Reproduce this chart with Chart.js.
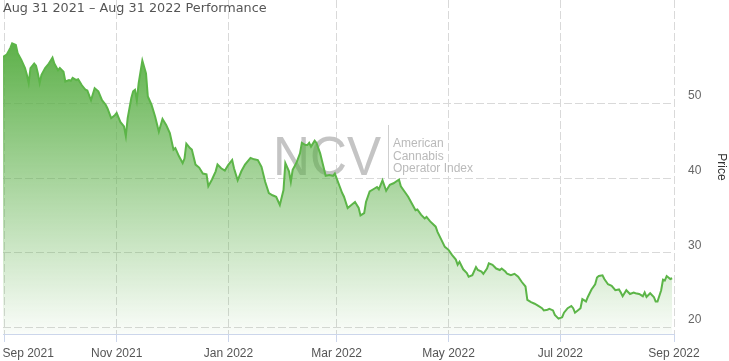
<!DOCTYPE html>
<html><head><meta charset="utf-8">
<script src="https://cdn.jsdelivr.net/npm/chart.js@4.4.0/dist/chart.umd.min.js"></script>
<style>html,body{margin:0;padding:0;background:#fff}#wrap{width:729px;height:361px;position:relative}</style>
</head><body><div id="wrap"><canvas id="c" width="729" height="361"></canvas></div>
<script>
// Days since Aug 31 2021
const days = [0,2,4,5,7,8,10,12,13,14,15,17,18,19,20,21,23,25,27,28,30,31,33,34,36,37,38,40,41,43,45,46,48,50,52,54,56,57,59,61,62,64,66,67,68,70,71,72,73,74,76,78,79,81,83,85,87,89,91,93,94,96,
98,99,100,102,103,105,107,109,111,112,114,116,117,119,121,123,125,126,128,130,132,135,137,139,141,143,145,147,149,151,153,154,156,157,158,160,162,163,165,166,167,168,170,171,173,175,176,178,180,181,183,185,186,188,190,192,194,195,197,198,200,202,204,205,207,209,211,213,216,217,219,221,223,225,226,228,230,231,233,236,237,239,241,243,245,247,248,249,251,253,254,256,258,259,261,262,264,265,267,269,271,272,274,275,277,279,281,283,285,286,288,290,292,294,295,297,298,300,301,303,305,306,308,310,311,312,314,315,316,318,319,321,323,324,325,327,328,330,332,334,336,337,338,340,342,344,345,347,349,350,351,353,355,356,357,359,360,361,362,364,365];
const prices = [56.2,56.5,57.4,58.0,57.8,56.7,55.8,54.7,53.8,52.7,54.7,55.3,55.0,54.0,52.7,53.8,54.7,55.3,56.1,55.3,54.4,54.7,54.2,52.9,53.1,53.0,53.4,53.1,53.2,52.4,51.8,51.7,50.4,52.0,51.6,50.4,49.8,49.3,48.0,48.4,48.7,47.5,46.9,45.6,48.0,50.7,51.6,51.8,50.4,52.7,55.7,54.0,50.9,49.8,48.2,46.2,47.9,47.1,46.0,43.8,44.0,42.9,
42.0,42.6,44.6,44.0,43.8,41.8,41.4,40.6,40.5,38.9,39.8,40.9,41.8,41.3,41.0,41.8,42.4,41.3,39.7,40.9,41.8,42.7,42.5,42.4,41.5,39.5,38.0,37.7,37.5,36.4,38.4,42.0,40.9,39.5,41.1,42.0,43.3,44.7,44.4,44.4,44.7,44.2,45.0,44.7,43.3,41.3,40.3,40.4,40.3,40.6,39.3,38.0,37.5,36.0,36.4,36.8,36.0,35.0,35.3,36.8,38.2,38.5,38.8,38.5,39.7,38.3,39.1,39.3,39.8,38.9,38.2,37.5,36.6,35.7,35.8,35.1,34.6,34.8,34.2,33.5,32.8,31.8,30.8,30.4,29.7,29.1,28.4,28.8,27.8,27.3,26.8,27.0,28.1,27.7,27.5,27.2,27.9,28.6,28.4,27.9,27.7,27.9,27.5,27.2,27.0,27.2,26.8,26.1,25.5,23.7,23.4,23.2,22.9,22.6,22.3,22.4,22.5,22.3,21.7,21.2,21.4,22.0,22.6,22.9,22.6,22.0,22.4,22.6,23.8,23.5,24.1,25.1,25.8,26.7,26.9,27.0,26.5,25.8,25.6,25.0,25.1,24.7,24.2,25.0,24.5,24.7,24.6,24.5,24.2,24.7,24.1,24.6,24.1,23.5,23.5,25.0,26.4,26.3,26.9,26.5,26.6];
const tickDays = [1,62,123,182,243,304,366];
const tickLabels = ['Sep 2021','Nov 2021','Jan 2022','Mar 2022','May 2022','Jul 2022','Sep 2022'];
const yTicks = [20,30,40,50];
const titleText = 'Aug 31 2021 \u2013 Aug 31 2022 Performance';
const yTitle = 'Price';
const watermarkMain = 'NCV';
const watermarkLines = ['American','Cannabis','Operator Index'];

const points = days.map((d,i)=>({x:d,y:prices[i]}));
const FONT = '"Liberation Sans", Arial, sans-serif';

const decor = {
  id:'decor',
  beforeDatasetsDraw(chart){
    const ctx = chart.ctx;
    ctx.save();
    ctx.fillStyle = '#555';
    ctx.font = '12.8px "DejaVu Sans", sans-serif';
    ctx.textBaseline = 'alphabetic';
    ctx.textAlign = 'left';
    ctx.fillText(titleText, 3, 12);
    ctx.fillStyle = '#c4c4c4';
    ctx.font = '56px ' + FONT;
    const w = ctx.measureText(watermarkMain).width;
    ctx.save();
    ctx.translate(273, 175);
    ctx.scale(108 / w, 1);
    ctx.fillText(watermarkMain, 0, 0);
    ctx.restore();
    ctx.strokeStyle = '#cfcfcf';
    ctx.lineWidth = 1;
    ctx.beginPath(); ctx.moveTo(388.5, 125); ctx.lineTo(388.5, 178); ctx.stroke();
    ctx.fillStyle = '#bababa';
    ctx.font = '12px ' + FONT;
    watermarkLines.forEach((t,i)=>ctx.fillText(t, 393, 147 + i*12.5));
    ctx.restore();
  }
};

new Chart(document.getElementById('c'), {
  type:'line',
  data:{datasets:[{
    data:points,
    borderColor:'#5cb548',
    borderWidth:2,
    pointRadius:0,
    pointHoverRadius:0,
    tension:0,
    fill:'start',
    backgroundColor:(c)=>{
      const a = c.chart.chartArea;
      if(!a) return 'rgba(92,176,72,0.5)';
      const g = c.chart.ctx.createLinearGradient(0, 40, 0, a.bottom);
      g.addColorStop(0,'rgba(92,176,72,1)');
      g.addColorStop(1,'rgba(92,176,72,0.03)');
      return g;
    }
  }]},
  options:{
    responsive:false,
    animation:false,
    events:[],
    layout:{padding:{left:3,right:0,top:0,bottom:0}},
    plugins:{legend:{display:false},tooltip:{enabled:false},title:{display:false}},
    scales:{
      x:{
        type:'linear', min:0, max:366,
        afterBuildTicks(s){ s.ticks = tickDays.map(v=>({value:v})); },
        afterFit(s){ s.height = 27; s.paddingLeft = 0; s.paddingRight = 0; },
        grid:{color:'#d9d9d9', lineWidth:1, drawTicks:true, tickLength:8, tickColor:'#ccd6eb', tickWidth:1, tickBorderDash:[]},
        border:{display:true, color:'#ccd6eb', width:1, dash:[8,3]},
        ticks:{
          autoSkip:false, maxRotation:0, minRotation:0, padding:4, color:'#555',
          font:{family:FONT, size:12},
          callback:(v)=>{
            const k = tickDays.indexOf(v);
            if(k < 0) return '';
            return (k === 0 ? ' '.repeat(14) : '') + tickLabels[k];
          }
        }
      },
      y:{
        position:'right', min:19.15, max:63.8,
        afterBuildTicks(s){ s.ticks = yTicks.map(v=>({value:v})); },
        afterFit(s){ s.width = 55; s.paddingTop = 0; s.paddingBottom = 0; },
        grid:{color:'#d9d9d9', lineWidth:1, drawTicks:false},
        border:{display:false, dash:[8,3]},
        ticks:{padding:14, labelOffset:-7.5, color:'#666', font:{family:FONT, size:12}},
        title:{display:true, text:yTitle, color:'#333', font:{family:FONT, size:12}, padding:{top:0,bottom:0}}
      }
    }
  },
  plugins:[decor]
});
</script></body></html>
